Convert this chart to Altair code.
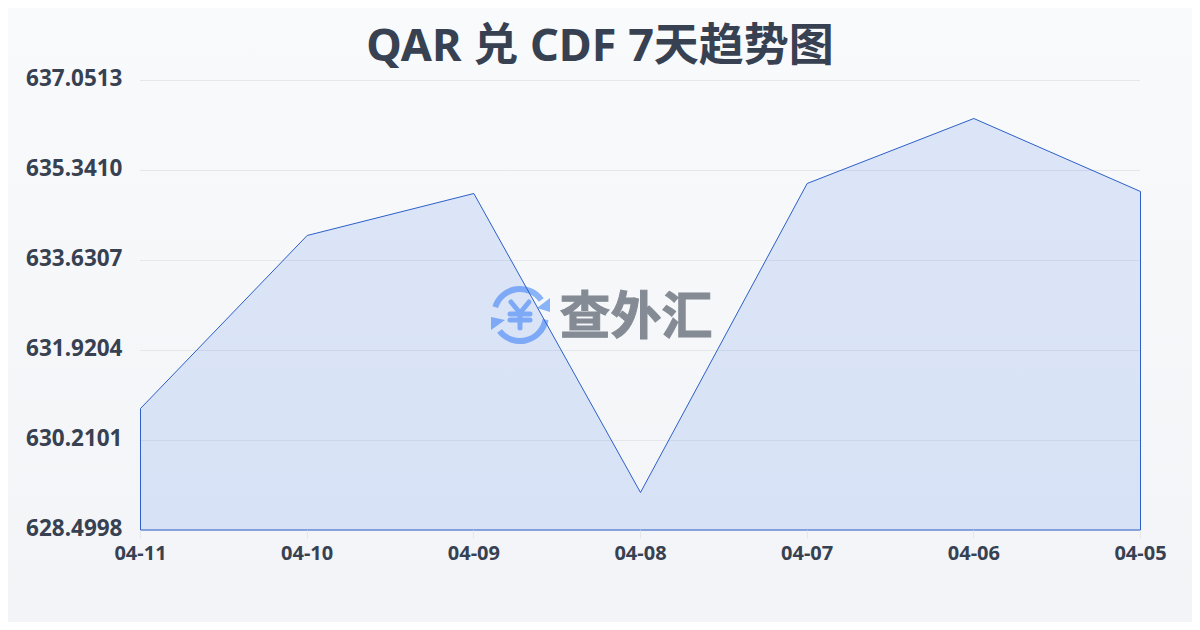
import altair as alt
import pandas as pd

dates = ["04-11", "04-10", "04-09", "04-08", "04-07", "04-06", "04-05"]
rates = [630.818, 634.106, 634.904, 629.222, 635.094, 636.329, 634.942]
y_ticks = [628.4998, 630.2101, 631.9204, 633.6307, 635.3410, 637.0513]
title_text = "QAR 兑 CDF 7天趋势图"
brand = "查外汇"
FONT = '"Noto Sans", "Noto Sans CJK SC"'
INK = "#374151"

df = pd.DataFrame({"date": dates, "rate": rates, "floor": [y_ticks[0]] * len(dates)})
one = df.head(1)
grid_df = pd.DataFrame({"tick": y_ticks})
W, H = 1000, 450
OX, OY = 132, 72  # plot offset inside the svg

bg = alt.Chart(one).mark_rect(
    clip=False,
    color=alt.Gradient(gradient="linear", x1=0, x2=0, y1=0, y2=1,
                       stops=[alt.GradientStop(color="#f8fafc", offset=0),
                              alt.GradientStop(color="#f2f4f7", offset=1)]),
).encode(x=alt.value(-OX), x2=alt.value(1184 - OX), y=alt.value(-OY), y2=alt.value(614 - OY))

y_scale = alt.Scale(domain=[y_ticks[0], y_ticks[-1]], nice=False, zero=False)
y_axis = alt.Axis(values=y_ticks, format=".4f", labelFont=FONT, labelFontSize=22.5,
                  labelFontWeight="bold", labelColor=INK, labelPadding=18, tickSize=0,
                  labelOffset=-1.5, domain=False, grid=False, zindex=1)
x_enc = alt.X("date:O", sort=dates, title=None,
              scale=alt.Scale(type="point", padding=0),
              axis=alt.Axis(labelAngle=0, labelFont=FONT, labelFontSize=20, labelFontWeight="bold",
                            labelColor=INK, labelPadding=5, tickSize=8, tickColor="#e5e7eb",
                            domain=False, grid=False, labelOverlap=False, zindex=1))
y_enc = alt.Y("rate:Q", title=None, scale=y_scale, axis=y_axis)

grid = alt.Chart(grid_df).mark_rule(color="#e5e7eb", strokeWidth=1, yOffset=0.5).encode(
    y=alt.Y("tick:Q", title=None, scale=y_scale, axis=y_axis), x=alt.value(0), x2=alt.value(W))

area = alt.Chart(df).mark_area(
    color="#2563eb", fillOpacity=0.13, stroke="#2c5fc9", strokeWidth=1, interpolate="linear",
    xOffset=0.5, yOffset=0.5,
).encode(x=x_enc, y=y_enc, y2=alt.Y2("floor:Q"))

def px(v):
    return alt.value(v)

CX, CY = 520 - 140, 315 - 80
ICON = "#8ab4f8"
arc1 = alt.Chart(one).mark_arc(innerRadius=23, outerRadius=29, theta=5.02, theta2=7.24, color=ICON).encode(x=px(CX), y=px(CY))
arc2 = alt.Chart(one).mark_arc(innerRadius=23, outerRadius=29, theta=1.75, theta2=4.05, color=ICON).encode(x=px(CX), y=px(CY))
tri1 = alt.Chart(one).mark_point(shape="M0.93,-1 L0.93,1 L-0.93,0.43 Z", size=196, filled=True, opacity=1, color=ICON).encode(x=px(543.5 - 140), y=px(305 - 80))
tri2 = alt.Chart(one).mark_point(shape="M-1,-0.93 L-1,0.93 L1,-0.5 Z", size=196, filled=True, opacity=1, color=ICON).encode(x=px(498 - 140), y=px(323.5 - 80))

def stroke(x1, y1, x2, y2):
    return alt.Chart(one).mark_rule(color=ICON, strokeWidth=5, strokeCap="round").encode(
        x=px(x1 - 140), y=px(y1 - 80), x2=px(x2 - 140), y2=px(y2 - 80))

yen = [stroke(511, 302, 520, 313), stroke(529, 302, 520, 313),
       stroke(510, 314, 530, 314), stroke(510, 320, 530, 320), stroke(520, 313, 520, 328)]

word = alt.Chart(one).mark_text(text=brand, font='"Noto Sans CJK SC"', fontSize=51, fontWeight="bold", color="#858b94",
                                stroke="#858b94", strokeWidth=1,
                                align="center", baseline="middle").encode(x=px(636 - 140), y=px(319 - 80))

chart = alt.layer(bg, grid, arc1, arc2, tri1, tri2, *yen, word, area).properties(
    width=W, height=H,
    padding={"left": OX, "top": OY, "right": 1184 - OX - W, "bottom": 614 - OY - H},
    autosize=alt.AutoSizeParams(type="none"),
    background="#f6f8fa",
    title=alt.TitleParams(title_text, font=FONT, fontSize=45, fontWeight="bold", color=INK,
                          anchor="middle", frame="group", dx=-40, offset=-62, zindex=1),
).configure_view(stroke=None)

chart.save("out.html", embed_options={"renderer": "svg", "actions": False})
